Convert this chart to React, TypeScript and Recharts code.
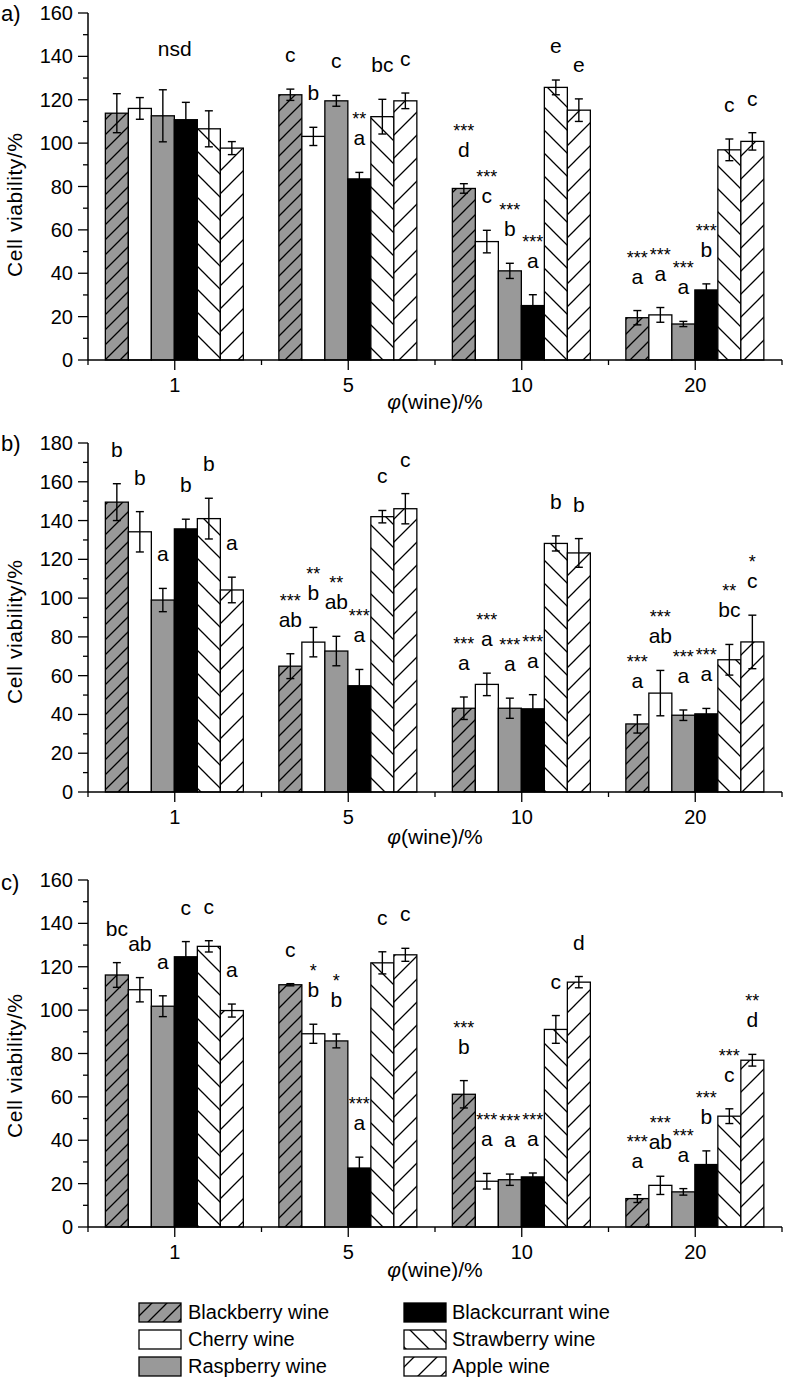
import React from "react";
import { Bar, BarChart, ErrorBar, ReferenceDot, XAxis, YAxis } from "recharts";

const FONT = '"Liberation Sans", Arial, sans-serif';

const doses = ["1", "5", "10", "20"];
const wines = [
  "Blackberry wine",
  "Cherry wine",
  "Raspberry wine",
  "Blackcurrant wine",
  "Strawberry wine",
  "Apple wine",
];

// rows = wines (same order as above), columns = doses
const meansA = [
  [113.8, 122.3, 79.1, 19.5],
  [116.0, 103.1, 54.6, 20.8],
  [112.6, 119.5, 41.1, 16.6],
  [110.8, 83.5, 25.1, 32.3],
  [106.6, 112.2, 125.7, 96.9],
  [97.7, 119.5, 115.2, 100.8],
];
const errsA = [
  [9, 2.6, 2.2, 3.3],
  [5, 4.2, 5.2, 3.4],
  [12, 2.5, 3.5, 1.2],
  [8, 3, 5, 2.8],
  [8.3, 8, 3.4, 5],
  [3, 3.6, 5.2, 4],
];
const lettersA = [
  ["", "c", "d", "a"],
  ["", "b", "c", "a"],
  ["", "c", "b", "a"],
  ["", "a", "a", "b"],
  ["", "bc", "e", "c"],
  ["", "c", "e", "c"],
];
const starsA = [
  ["", "", "***", "***"],
  ["", "", "***", "***"],
  ["", "", "***", "***"],
  ["", "**", "***", "***"],
  ["", "", "", ""],
  ["", "", "", ""],
];
const nsdA = 143.4;

const meansB = [
  [149.5, 64.9, 43.2, 35.1],
  [134.2, 77.3, 55.5, 51.0],
  [99.0, 72.7, 43.2, 39.6],
  [135.7, 54.8, 42.9, 40.3],
  [141.0, 142.0, 128.2, 68.2],
  [104.2, 146.1, 123.3, 77.4],
];
const errsB = [
  [9.5, 6.4, 5.8, 4.7],
  [10.4, 7.6, 5.8, 11.7],
  [6, 7.6, 5.2, 2.7],
  [5, 8.4, 7.3, 2.8],
  [10.5, 3.2, 3.9, 7.9],
  [6.6, 7.8, 7.4, 13.8],
];
const lettersB = [
  ["b", "ab", "a", "a"],
  ["b", "b", "a", "ab"],
  ["a", "ab", "a", "a"],
  ["b", "a", "a", "a"],
  ["b", "c", "b", "bc"],
  ["a", "c", "b", "c"],
];
const starsB = [
  ["", "***", "***", "***"],
  ["", "**", "***", "***"],
  ["", "**", "***", "***"],
  ["", "***", "***", "***"],
  ["", "", "", "**"],
  ["", "", "", "*"],
];

const meansC = [
  [116.2, 111.7, 61.2, 13.1],
  [109.4, 89.1, 21.1, 19.2],
  [101.8, 85.8, 21.8, 16.2],
  [124.6, 27.2, 23.1, 28.8],
  [129.4, 121.8, 91.1, 51.1],
  [99.8, 125.5, 112.9, 76.9],
];
const errsC = [
  [5.7, 0.5, 6.3, 1.8],
  [5.6, 4.4, 3.6, 4.2],
  [4.8, 3.2, 2.6, 1.5],
  [7, 5, 1.8, 6.3],
  [2.6, 5.1, 6.4, 3.4],
  [3, 3, 2.6, 2.7],
];
const lettersC = [
  ["bc", "c", "b", "a"],
  ["ab", "b", "a", "ab"],
  ["a", "b", "a", "a"],
  ["c", "a", "a", "b"],
  ["c", "c", "c", "c"],
  ["a", "c", "d", "d"],
];
const starsC = [
  ["", "", "***", "***"],
  ["", "*", "***", "***"],
  ["", "*", "***", "***"],
  ["", "***", "***", "***"],
  ["", "", "", "***"],
  ["", "", "", "**"],
];

const ticks160 = [0, 10, 20, 30, 40, 50, 60, 70, 80, 90, 100, 110, 120, 130, 140, 150, 160];
const ticks180 = [...ticks160, 170, 180];

const fillFor = (prefix: string, s: number) =>
  [`url(#${prefix}-bb)`, "#ffffff", "#999999", "#000000", `url(#${prefix}-sb)`, `url(#${prefix}-ap)`][s];

function Patterns({ prefix }: { prefix: string }) {
  return (
    <defs>
      <pattern id={`${prefix}-bb`} patternUnits="userSpaceOnUse" width={15} height={15}>
        <rect width={15} height={15} fill="#999999" />
        <path d="M0,15 L15,0 M-3,3 L3,-3 M12,18 L18,12" stroke="#000" strokeWidth={1.3} />
      </pattern>
      <pattern id={`${prefix}-sb`} patternUnits="userSpaceOnUse" width={23} height={23}>
        <rect width={23} height={23} fill="#fff" />
        <path d="M0,0 L23,23 M-4,19 L4,27 M19,-4 L27,4" stroke="#000" strokeWidth={1.3} />
      </pattern>
      <pattern id={`${prefix}-ap`} patternUnits="userSpaceOnUse" width={23} height={23}>
        <rect width={23} height={23} fill="#fff" />
        <path d="M0,23 L23,0 M-4,4 L4,-4 M19,27 L27,19" stroke="#000" strokeWidth={1.3} />
      </pattern>
    </defs>
  );
}

function buildRows(means: number[][], errs: number[][]) {
  return doses.map((d, i) => {
    const row: Record<string, number | string> = { dose: d, idx: i };
    means.forEach((m, s) => {
      row[`m${s}`] = m[i];
      row[`e${s}`] = errs[s][i];
    });
    return row;
  });
}

const makeShape =
  (s: number, means: number[][], errs: number[][], letters: string[][], stars: string[][]) =>
  (p: any) => {
    const { x, y, width, height, fill } = p;
    const i = p.payload?.idx ?? p.index;
    const k = height / means[s][i];
    const errTop = y - errs[s][i] * k;
    const cx = x + width / 2;
    return (
      <g>
        <rect x={x} y={y} width={width} height={height} fill={fill} stroke="#000" strokeWidth={1.3} />
        {letters[s][i] && (
          <text x={cx} y={errTop - 27} textAnchor="middle" fontSize={21} fontFamily={FONT} fill="#000">
            {letters[s][i]}
          </text>
        )}
        {stars[s][i] && (
          <text x={cx} y={errTop - 47} textAnchor="middle" fontSize={18} fontFamily={FONT} fill="#000">
            {stars[s][i]}
          </text>
        )}
      </g>
    );
  };

const YTick = (p: any) => {
  const { x, y, payload } = p;
  const major = payload.value % 20 === 0;
  return (
    <g>
      <line x1={x - (major ? 10 : 5)} x2={x} y1={y} y2={y} stroke="#000" strokeWidth={1.3} />
      {major && (
        <text x={x - 15} y={y + 7} textAnchor="end" fontSize={20} fontFamily={FONT} fill="#000">
          {payload.value}
        </text>
      )}
    </g>
  );
};

const BAND = 694 / 4;

const XTick = (p: any) => {
  const { x, y, payload, index } = p;
  const h = BAND / 2;
  return (
    <g>
      <line x1={x} x2={x} y1={y} y2={y + 10} stroke="#000" strokeWidth={1.3} />
      <line x1={x - h} x2={x - h} y1={y} y2={y + 5} stroke="#000" strokeWidth={1.3} />
      {index === doses.length - 1 && (
        <line x1={x + h} x2={x + h} y1={y} y2={y + 5} stroke="#000" strokeWidth={1.3} />
      )}
      <text x={x} y={y + 32} textAnchor="middle" fontSize={20} fontFamily={FONT} fill="#000">
        {payload.value}
      </text>
    </g>
  );
};

interface PanelProps {
  prefix: string;
  top: number;
  plotHeight: number;
  ticks: number[];
  means: number[][];
  errs: number[][];
  letters: string[][];
  stars: string[][];
  nsd?: number;
}

function Panel({ prefix, top, plotHeight, ticks, means, errs, letters, stars, nsd }: PanelProps) {
  const rows = buildRows(means, errs);
  const yMax = ticks[ticks.length - 1];
  return (
    <div style={{ position: "absolute", left: 0, top }}>
      <BarChart
        width={787}
        height={13 + plotHeight + 40}
        data={rows}
        margin={{ top: 13, right: 5, bottom: 10, left: 20 }}
        barCategoryGap="10%"
        barGap={0}
      >
        <Patterns prefix={prefix} />
        <XAxis
          dataKey="dose"
          height={30}
          interval={0}
          tickSize={0}
          tickMargin={0}
          tickLine={false}
          axisLine={{ stroke: "#000", strokeWidth: 1.5 }}
          tick={<XTick />}
        />
        <YAxis
          width={68}
          domain={[0, yMax]}
          ticks={ticks}
          interval={0}
          tickSize={0}
          tickMargin={0}
          tickLine={false}
          axisLine={{ stroke: "#000", strokeWidth: 1.5 }}
          tick={<YTick />}
        />
        {wines.map((w, s) => (
          <Bar
            key={w}
            dataKey={`m${s}`}
            name={w}
            fill={fillFor(prefix, s)}
            isAnimationActive={false}
            shape={makeShape(s, means, errs, letters, stars)}
          >
            <ErrorBar
              dataKey={`e${s}`}
              width={4}
              stroke="#000"
              strokeWidth={1.4}
              direction="y"
              isAnimationActive={false}
            />
          </Bar>
        ))}
        {nsd !== undefined && (
          <ReferenceDot
            x={doses[0]}
            y={nsd}
            r={1}
            fill="none"
            stroke="none"
            label={{ value: "nsd", position: "center", fontSize: 21, fill: "#000", fontFamily: FONT }}
          />
        )}
      </BarChart>
    </div>
  );
}

const panelLabels = [
  { t: "a)", y: 21, title: 205, xt: 409 },
  { t: "b)", y: 451, title: 632, xt: 844 },
  { t: "c)", y: 890, title: 1066, xt: 1277 },
];

const legendCols = [
  { sx: 139, tx: 188, items: [0, 1, 2] },
  { sx: 404, tx: 452, items: [3, 4, 5] },
];
const legendRows = [1303, 1330, 1357];

export default function App() {
  return (
    <div style={{ position: "absolute", left: 0, top: 0, width: 787, height: 1379, background: "#fff" }}>
      <Panel
        prefix="pa"
        top={0}
        plotHeight={347}
        ticks={ticks160}
        means={meansA}
        errs={errsA}
        letters={lettersA}
        stars={starsA}
        nsd={nsdA}
      />
      <Panel
        prefix="pb"
        top={430}
        plotHeight={349}
        ticks={ticks180}
        means={meansB}
        errs={errsB}
        letters={lettersB}
        stars={starsB}
      />
      <Panel
        prefix="pc"
        top={867}
        plotHeight={347}
        ticks={ticks160}
        means={meansC}
        errs={errsC}
        letters={lettersC}
        stars={starsC}
      />
      <svg
        width={787}
        height={1379}
        style={{ position: "absolute", left: 0, top: 0, pointerEvents: "none" }}
        fontFamily={FONT}
      >
        <Patterns prefix="lg" />
        {panelLabels.map((p) => (
          <g key={p.t}>
            <text x={1} y={p.y} fontSize={22} fill="#000">
              {p.t}
            </text>
            <text
              transform={`translate(22,${p.title}) rotate(-90)`}
              textAnchor="middle"
              fontSize={21}
              textLength={144}
              lengthAdjust="spacing"
              fill="#000"
            >
              Cell viability/%
            </text>
            <text x={435} y={p.xt} textAnchor="middle" fontSize={21} fill="#000">
              <tspan fontStyle="italic">φ</tspan>(wine)/%
            </text>
          </g>
        ))}
        {legendCols.map((c) =>
          c.items.map((s, r) => (
            <g key={wines[s]}>
              <rect
                x={c.sx}
                y={legendRows[r]}
                width={42}
                height={19}
                fill={fillFor("lg", s)}
                stroke="#000"
                strokeWidth={1.3}
              />
              <text x={c.tx} y={legendRows[r] + 16} fontSize={20} fill="#000">
                {wines[s]}
              </text>
            </g>
          ))
        )}
      </svg>
    </div>
  );
}
